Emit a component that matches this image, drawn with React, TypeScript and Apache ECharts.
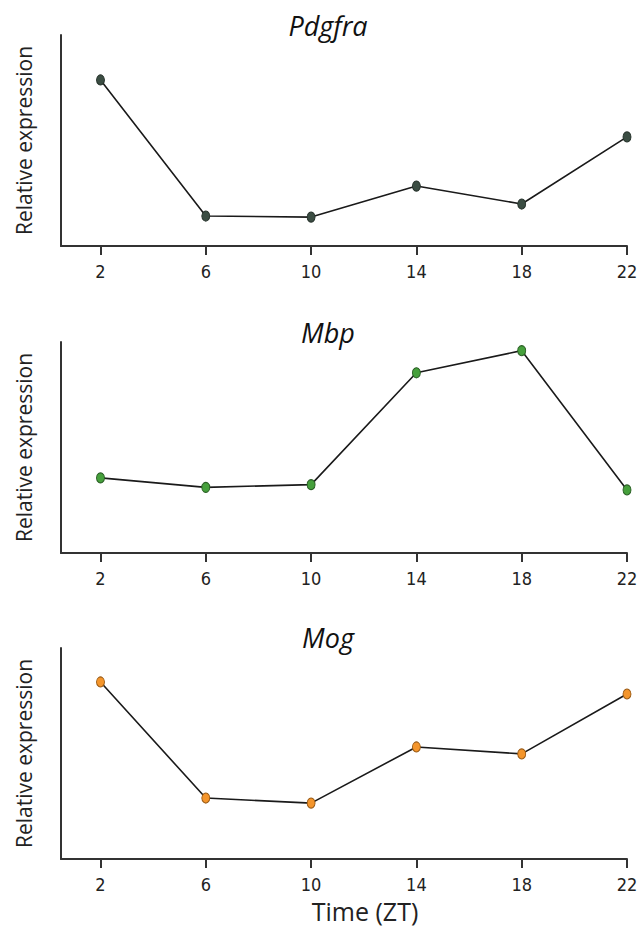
import React, { useEffect, useRef } from "react";
import * as echarts from "echarts";

const timepoints = [2, 6, 10, 14, 18, 22];
const tickLabels = [2, 6, 10, 14, 18, 22];
const geneNames = ["Pdgfra", "Mbp", "Mog"];
const pdgfra = [0.787, 0.142, 0.137, 0.284, 0.199, 0.517];
const mbp = [0.356, 0.311, 0.324, 0.854, 0.959, 0.299];
const mog = [0.839, 0.289, 0.265, 0.531, 0.498, 0.782];

const seriesValues = [pdgfra, mbp, mog];
const markerColors = ["#3b4d43", "#46a03c", "#f4952b"];
const markerBorders = ["#27332c", "#2a5f25", "#9a5a14"];
const gridTops = [35, 342, 648];
const titleY = [25, 332, 637];
const GRID_H = 211;

export default function App() {
  const ref = useRef<HTMLDivElement>(null);
  useEffect(() => {
    if (!ref.current) return;
    const chart = echarts.init(ref.current, undefined, { renderer: "svg" });
    const axisColor = "#333333";
    const grids = gridTops.map((t) => ({
      left: 61,
      width: 566,
      top: t,
      height: GRID_H,
      outerBoundsMode: "none",
      containLabel: false,
    }));
    const xAxes = gridTops.map((_, i) => ({
      type: "value",
      gridIndex: i,
      min: 0.5,
      max: 22,
      axisLine: { show: true, onZero: false, lineStyle: { color: axisColor, width: 2 } },
      axisTick: {
        show: true,
        inside: false,
        length: 9,
        customValues: tickLabels,
        lineStyle: { color: axisColor, width: 2 },
      },
      axisLabel: {
        show: true,
        customValues: tickLabels,
        margin: 16,
        fontSize: 18,
        fontFamily: "'Liberation Sans Narrow', 'DejaVu Sans Condensed', sans-serif",
        color: "#222",
      },
      splitLine: { show: false },
    }));
    const yAxes = gridTops.map((_, i) => ({
      type: "value",
      gridIndex: i,
      min: 0,
      max: 1,
      name: "Relative expression",
      nameLocation: "middle",
      nameRotate: 90,
      nameGap: 27,
      nameTextStyle: { fontSize: 21, fontFamily: "'Open Sans', sans-serif", color: "#222" },
      axisLine: { show: true, onZero: false, lineStyle: { color: axisColor, width: 2 } },
      axisTick: { show: false },
      axisLabel: { show: false },
      splitLine: { show: false },
    }));
    const series = seriesValues.map((vals, i) => ({
      type: "line",
      xAxisIndex: i,
      yAxisIndex: i,
      data: timepoints.map((t, j) => [t, vals[j]]),
      symbol: "circle",
      symbolSize: [8, 10],
      showSymbol: true,
      itemStyle: { color: markerColors[i], borderColor: markerBorders[i], borderWidth: 1 },
      lineStyle: { color: "#1a1a1a", width: 1.6 },
      z: 3,
    }));
    const graphics: any[] = geneNames.map((g, i) => ({
      type: "text",
      x: 328,
      y: titleY[i],
      style: {
        text: g,
        font: "italic 27px 'Open Sans', sans-serif",
        fill: "#111",
        align: "center",
        verticalAlign: "middle",
      },
    }));
    graphics.push({
      type: "text",
      x: 365,
      y: 911,
      style: {
        text: "Time (ZT)",
        font: "25px 'Open Sans', sans-serif",
        fill: "#222",
        align: "center",
        verticalAlign: "middle",
      },
    });
    chart.setOption({
      animation: false,
      backgroundColor: "#ffffff",
      grid: grids,
      xAxis: xAxes,
      yAxis: yAxes,
      series,
      graphic: graphics,
    } as any);
    return () => chart.dispose();
  }, []);
  return (
    <div
      ref={ref}
      style={{ position: "fixed", left: 0, top: 0, width: 644, height: 927, background: "#fff" }}
    />
  );
}
